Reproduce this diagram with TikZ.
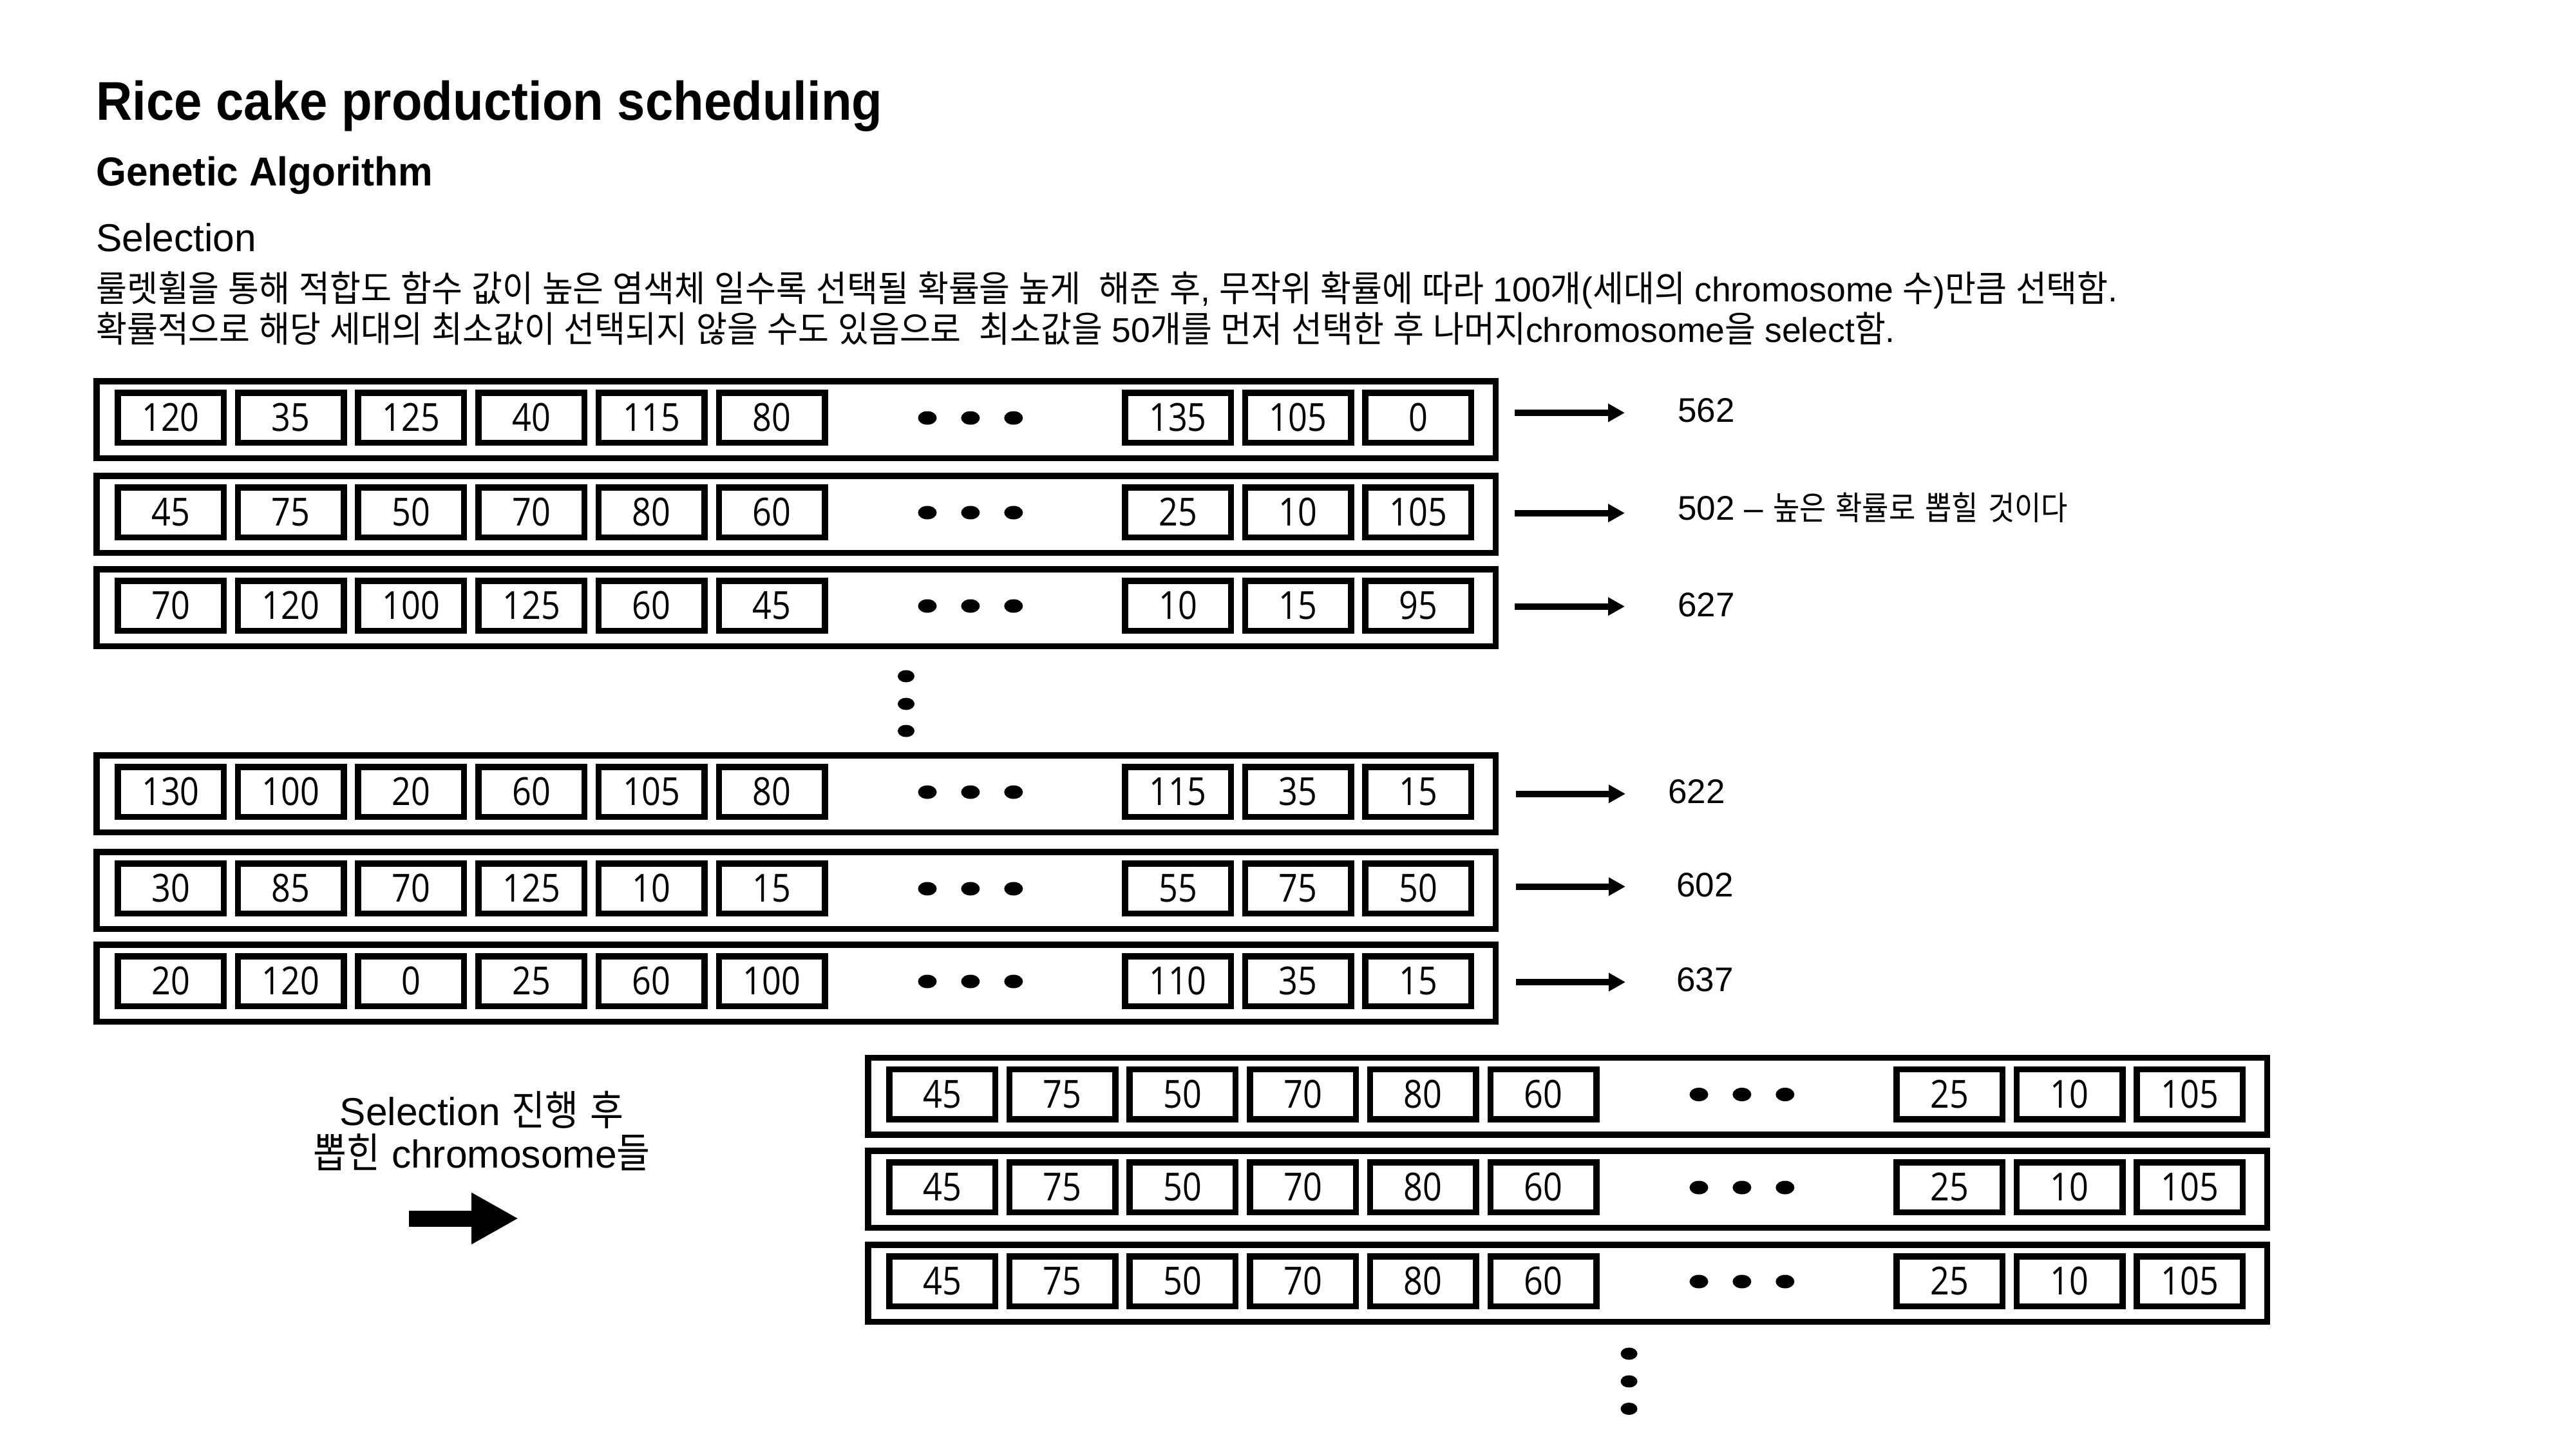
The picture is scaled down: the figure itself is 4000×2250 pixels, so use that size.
\documentclass[tikz,border=0pt]{standalone}
\usepackage{fontspec}
\usetikzlibrary{arrows.meta}
\setmainfont{Liberation Sans}
\newfontfamily\titlefont[FakeStretch=0.92]{Liberation Sans}
\newfontfamily\subfont[FakeStretch=0.96]{Liberation Sans}
\newfontfamily\krf[FakeStretch=0.88]{Noto Sans CJK KR}
\newfontfamily\krd[FakeStretch=0.93]{Noto Sans CJK KR}
\newfontfamily\cellfont[FakeStretch=0.87]{Open Sans}
\newcommand\Kd[1]{{\krd\fontsize{56}{60}\selectfont #1}}
\newcommand\Kl[1]{{\krf\fontsize{51}{60}\selectfont #1}}
\newcommand\Ks[1]{{\krf\fontsize{64}{70}\selectfont #1}}

\newcommand\crow[4]{%
  \node[frame] (#1) at ({1236+#2},{#3+64.5}) {};
  \foreach \v [count=\i] in {#4} {%
    \ifnum\i<7\relax
      \pgfmathsetmacro\cx{265+186.7*(\i-1)+#2}%
    \else
      \pgfmathsetmacro\cx{1829+186.7*(\i-7)+#2}%
    \fi
    \node[cell] (#1c\i) at (\cx,{#3+61.5}) {\v};
  }%
  \foreach \k in {0,1,2} \fill ({1440+66.9*\k+#2},{#3+62}) ellipse [x radius=14.5pt, y radius=10.5pt];
}

\begin{document}
\begin{tikzpicture}[x=1pt,y=-1pt,
  frame/.style={draw, line width=9.5pt, minimum width=2172.5pt, minimum height=119.5pt, inner sep=0pt},
  cell/.style={draw, line width=9.5pt, minimum width=164.5pt, minimum height=77.5pt, inner sep=0pt,
    font=\cellfont\fontsize{60}{60}\selectfont},
  arr/.style={line width=10pt, -{Triangle[length=26pt,width=27pt]}},
  bigarr/.style={line width=25pt, -{Triangle[length=73pt,width=75pt]}},
  lab/.style={anchor=base west, inner sep=0pt, font=\fontsize{53}{60}\selectfont},
  txt/.style={anchor=base west, inner sep=0pt}
]
\useasboundingbox (0,0) rectangle (4000,2250);

% headings
\node[txt, font=\titlefont\bfseries\fontsize{84.7}{100}\selectfont] (title) at (149,187) {Rice cake production scheduling};
\node[txt, font=\subfont\bfseries\fontsize{62.8}{75}\selectfont] (sub) at (149,288.3) {Genetic Algorithm};
\node[txt, font=\fontsize{60.5}{72}\selectfont] (selhead) at (149,390) {Selection};
\node[txt, font=\fontsize{53.5}{60}\selectfont] (d1) at (149,468) {\spaceskip=14pt\relax
  \Kd{룰렛휠을 통해 적합도 함수 값이 높은 염색체 일수록 선택될 확률을 높게}\ \ \Kd{해준 후}, \Kd{무작위 확률에 따라} 100\Kd{개}(\Kd{세대의} chromosome \Kd{수})\Kd{만큼 선택함}.};
\node[txt, font=\fontsize{53.5}{60}\selectfont] (d2) at (149,531) {\spaceskip=14pt\relax
  \Kd{확률적으로 해당 세대의 최소값이 선택되지 않을 수도 있음으로}\ \ \Kd{최소값을} 50\Kd{개를 먼저 선택한 후 나머지}chromosome\Kd{을} select\Kd{함}.};

% population rows
\crow{r1}{0}{587}{120,35,125,40,115,80,135,105,0}
\crow{r2}{0}{734}{45,75,50,70,80,60,25,10,105}
\crow{r3}{0}{879}{70,120,100,125,60,45,10,15,95}
\crow{r4}{0}{1168}{130,100,20,60,105,80,115,35,15}
\crow{r5}{0}{1318}{30,85,70,125,10,15,55,75,50}
\crow{r6}{0}{1462}{20,120,0,25,60,100,110,35,15}

% vertical dots between row groups
\fill (1407,1050) ellipse [x radius=13pt, y radius=9.5pt];
\fill (1407,1093) ellipse [x radius=13pt, y radius=9.5pt];
\fill (1407,1135) ellipse [x radius=13pt, y radius=9.5pt];

% fitness arrows and values
\coordinate (a1s) at (2352,641);    \coordinate (a1e) at (2523,641);
\coordinate (a2s) at (2352,796.7);  \coordinate (a2e) at (2523,796.7);
\coordinate (a3s) at (2352,941.7);  \coordinate (a3e) at (2523,941.7);
\coordinate (a4s) at (2354,1232.7); \coordinate (a4e) at (2524,1232.7);
\coordinate (a5s) at (2354,1376.7); \coordinate (a5e) at (2524,1376.7);
\coordinate (a6s) at (2354,1525);   \coordinate (a6e) at (2524,1525);
\foreach \n in {1,...,6} \draw[arr] (a\n s) -- (a\n e);

\node[lab] (v1) at (2605,655) {562};
\node[lab] (v2) at (2605,807) {\spaceskip=15pt\relax 502 – \Kl{높은 확률로 뽑힐 것이다}};
\node[lab] (v3) at (2605,957) {627};
\node[lab] (v4) at (2590,1247) {622};
\node[lab] (v5) at (2603,1392) {602};
\node[lab] (v6) at (2603,1539) {637};

% after selection
\node[anchor=base, inner sep=0pt, font=\fontsize{60.5}{70}\selectfont] (sel1) at (748,1747) {\spaceskip=18pt\relax Selection \Ks{진행 후}};
\node[anchor=base, inner sep=0pt, font=\fontsize{60.5}{70}\selectfont] (sel2) at (748,1813) {\spaceskip=18pt\relax \Ks{뽑힌} chromosome\Ks{들}};
\coordinate (bas) at (635,1892);
\coordinate (bae) at (805,1892);
\draw[bigarr] (bas) -- (bae);

\crow{s1}{1198}{1637.5}{45,75,50,70,80,60,25,10,105}
\crow{s2}{1198}{1782}{45,75,50,70,80,60,25,10,105}
\crow{s3}{1198}{1928}{45,75,50,70,80,60,25,10,105}

\fill (2529.5,2102) ellipse [x radius=13pt, y radius=9.5pt];
\fill (2529.5,2145) ellipse [x radius=13pt, y radius=9.5pt];
\fill (2529.5,2187.5) ellipse [x radius=13pt, y radius=9.5pt];
\end{tikzpicture}
\end{document}
